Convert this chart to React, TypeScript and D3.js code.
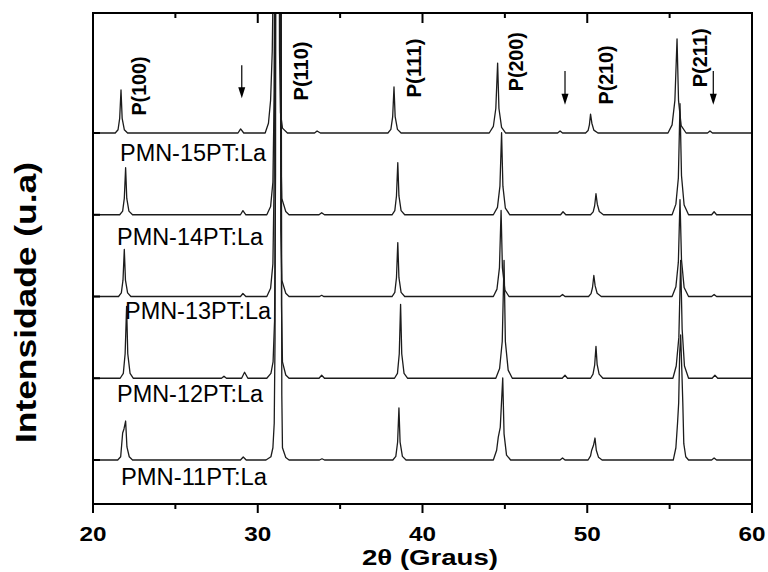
import React from "react";
import * as d3 from "d3";

// ---------- DATA ----------
// 2θ (degrees) vs relative intensity (a.u.)
const sampleNames = ["PMN-11PT:La", "PMN-12PT:La", "PMN-13PT:La", "PMN-14PT:La", "PMN-15PT:La"];
const sampleOffsets = [1000, 2000, 3000, 4000, 5000];

const pmn11: [number, number][] = [
  [20, 0], [21.5, 0], [21.68, 40], [21.8, 330], [21.88, 380], [21.98, 477], [22.06, 160], [22.2, 40], [22.4, 0],
  [28.95, 0], [29.12, 37], [29.3, 0],
  [30.5, 0], [30.8, 40], [30.92, 150], [31.0, 450], [31.05, 1500], [31.08, 6000], [31.25, 60000], [31.42, 6000], [31.46, 800], [31.5, 150], [31.7, 30], [31.9, 0],
  [33.75, 0], [33.9, 15], [34.05, 0],
  [38.2, 0], [38.38, 45], [38.49, 220], [38.57, 636], [38.64, 220], [38.78, 45], [39.0, 0],
  [44.3, 0], [44.5, 120], [44.6, 280], [44.72, 400], [44.87, 1003], [44.95, 320], [45.1, 60], [45.35, 0],
  [48.35, 0], [48.5, 25], [48.65, 0],
  [50.05, 0], [50.2, 50], [50.27, 120], [50.38, 180], [50.47, 269], [50.55, 120], [50.68, 35], [50.9, 0],
  [55.22, 0], [55.38, 150], [55.48, 450], [55.55, 700], [55.61, 1300], [55.67, 1530], [55.74, 1100], [55.8, 700], [55.86, 200], [55.98, 40], [56.15, 0],
  [57.55, 0], [57.7, 25], [57.85, 0],
  [60, 0],
];

const pmn12: [number, number][] = [
  [20, 0], [21.65, 0], [21.84, 60], [21.95, 300], [22.04, 880], [22.11, 300], [22.25, 60], [22.45, 0],
  [27.8, 0], [27.95, 25], [28.1, 0],
  [29.02, 0], [29.2, 73], [29.4, 0],
  [30.55, 0], [30.8, 60], [30.93, 200], [31.02, 700], [31.08, 2500], [31.1, 8000], [31.25, 60000], [31.4, 8000], [31.44, 900], [31.5, 200], [31.7, 40], [31.9, 0],
  [33.72, 0], [33.88, 37], [34.05, 0],
  [38.3, 0], [38.48, 60], [38.59, 300], [38.67, 905], [38.74, 300], [38.88, 60], [39.1, 0],
  [44.45, 0], [44.68, 120], [44.84, 450], [44.95, 1443], [45.03, 450], [45.2, 100], [45.45, 0],
  [48.48, 0], [48.65, 37], [48.8, 0],
  [50.2, 0], [50.35, 50], [50.45, 160], [50.53, 391], [50.6, 170], [50.72, 50], [50.95, 0],
  [55.2, 0], [55.4, 150], [55.56, 500], [55.67, 1443], [55.76, 600], [55.9, 150], [56.15, 0],
  [57.58, 0], [57.75, 37], [57.92, 0],
  [60, 0],
];

const pmn13: [number, number][] = [
  [20, 0], [21.55, 0], [21.72, 45], [21.82, 200], [21.9, 575], [21.97, 200], [22.1, 45], [22.3, 0],
  [28.95, 0], [29.1, 37], [29.28, 0],
  [30.55, 0], [30.78, 100], [30.92, 400], [31.0, 1500], [31.08, 8000], [31.22, 60000], [31.34, 8000], [31.4, 800], [31.46, 200], [31.7, 40], [31.9, 0],
  [33.75, 0], [33.88, 15], [34.0, 0],
  [38.15, 0], [38.32, 50], [38.42, 230], [38.5, 660], [38.57, 230], [38.7, 50], [38.92, 0],
  [44.3, 0], [44.52, 90], [44.67, 350], [44.77, 1052], [44.85, 350], [45.0, 80], [45.25, 0],
  [48.35, 0], [48.5, 25], [48.65, 0],
  [50.08, 0], [50.23, 35], [50.32, 110], [50.4, 257], [50.48, 130], [50.6, 40], [50.85, 0],
  [55.15, 0], [55.38, 120], [55.53, 420], [55.63, 1186], [55.72, 450], [55.88, 110], [56.15, 0],
  [57.55, 0], [57.7, 25], [57.85, 0],
  [60, 0],
];

const pmn14: [number, number][] = [
  [20, 0], [21.62, 0], [21.8, 45], [21.9, 200], [21.98, 575], [22.05, 200], [22.18, 45], [22.4, 0],
  [28.95, 0], [29.1, 50], [29.28, 0],
  [30.55, 0], [30.78, 100], [30.92, 400], [31.0, 1500], [31.08, 8000], [31.22, 60000], [31.34, 8000], [31.4, 800], [31.46, 200], [31.7, 40], [31.9, 0],
  [33.72, 0], [33.88, 25], [34.05, 0],
  [38.15, 0], [38.32, 50], [38.42, 230], [38.5, 636], [38.57, 230], [38.7, 50], [38.92, 0],
  [44.3, 0], [44.55, 90], [44.7, 350], [44.8, 1003], [44.88, 350], [45.03, 80], [45.3, 0],
  [48.38, 0], [48.53, 37], [48.7, 0],
  [50.2, 0], [50.36, 35], [50.45, 110], [50.53, 257], [50.61, 130], [50.73, 40], [50.98, 0],
  [55.15, 0], [55.38, 130], [55.53, 450], [55.63, 1358], [55.72, 480], [55.88, 120], [56.15, 0],
  [57.55, 0], [57.7, 37], [57.85, 0],
  [60, 0],
];

const pmn15: [number, number][] = [
  [20, 0], [21.35, 0], [21.52, 40], [21.62, 180], [21.7, 526], [21.77, 180], [21.9, 40], [22.1, 0],
  [28.8, 0], [28.96, 50], [29.15, 0],
  [30.45, 0], [30.65, 120], [30.78, 400], [30.88, 1000], [30.98, 2500], [31.05, 8000], [31.14, 30000], [31.26, 8000], [31.32, 1000], [31.38, 250], [31.5, 60], [31.8, 0],
  [33.45, 0], [33.6, 25], [33.8, 0],
  [37.9, 0], [38.08, 45], [38.19, 200], [38.27, 563], [38.34, 200], [38.48, 45], [38.7, 0],
  [44.05, 0], [44.3, 80], [44.45, 300], [44.56, 856], [44.64, 300], [44.8, 70], [45.05, 0],
  [48.2, 0], [48.35, 25], [48.5, 0],
  [49.9, 0], [50.05, 30], [50.13, 100], [50.2, 232], [50.28, 120], [50.4, 35], [50.65, 0],
  [54.9, 0], [55.15, 100], [55.32, 400], [55.45, 1150], [55.54, 400], [55.7, 90], [56.0, 0],
  [57.3, 0], [57.45, 25], [57.6, 0],
  [60, 0],
];

const seriesList = [pmn11, pmn12, pmn13, pmn14, pmn15];

const xTicks = [20, 25, 30, 35, 40, 45, 50, 55, 60];
const xTickLabels = ["20", "30", "40", "50", "60"];
const yTicks = [1000, 2000, 3000, 4000, 5000];

const peakLabels = ["P(100)", "P(110)", "P(111)", "P(200)", "P(210)", "P(211)"];
const peakLabelX = [23.2, 33.07, 39.89, 46.12, 51.58, 57.29];
const peakLabelY = [5575, 5759, 5795, 5872, 5710, 5920];

const arrowX = [29.03, 48.65, 57.65];
const arrowTop = [5830, 5760, 5760];
const arrowBottom = [5425, 5345, 5345];

// ---------- LAYOUT ----------
const W = 768, H = 572;
const L = 93, R = 752, T = 13, B = 504;
const FONT = "'Liberation Sans', Arial, Helvetica, sans-serif";

export default function App() {
  const x = d3.scaleLinear().domain([20, 60]).range([L, R]);
  const y = d3.scaleLinear().domain([462, 6468]).range([B, T]);

  const labelStartX = [121, 117, 125, 117, 120];
  const labelBaseY = [485, 402, 319, 245, 161];

  return (
    <svg width={W} height={H} style={{ position: "absolute", left: 0, top: 0, background: "#fff" }}>
      <defs>
        <clipPath id="plotClip">
          <rect x={L} y={T} width={R - L} height={B - T} />
        </clipPath>
      </defs>
      <rect x={0} y={0} width={W} height={H} fill="#fff" />

      <g clipPath="url(#plotClip)">
        {seriesList.map((s, i) => {
          const line = d3
            .line<[number, number]>()
            .x((d) => x(d[0]))
            .y((d) => y(d[1] + sampleOffsets[i]));
          return (
            <path key={i} d={line(s) || ""} fill="none" stroke="#1c1c1c" strokeWidth={1.3} strokeLinejoin="round" />
          );
        })}
      </g>

      {/* sample labels */}
      {sampleNames.map((n, i) => (
        <text key={n} x={labelStartX[i]} y={labelBaseY[i]} fontFamily={FONT} fontSize={23}
          textLength={146} lengthAdjust="spacingAndGlyphs" fill="#000">{n}</text>
      ))}

      {/* peak labels */}
      {peakLabels.map((p, i) => (
        <text key={p} transform={`translate(${x(peakLabelX[i])},${y(peakLabelY[i])}) rotate(-90)`}
          textAnchor="middle" fontFamily={FONT} fontWeight="bold" fontSize={21}
          textLength={59} lengthAdjust="spacingAndGlyphs" fill="#000">{p}</text>
      ))}

      {/* arrows */}
      {arrowX.map((a, i) => {
        const ax = x(a), y0 = y(arrowTop[i]), y1 = y(arrowBottom[i]);
        return (
          <g key={i}>
            <line x1={ax} x2={ax} y1={y0} y2={y1 - 8} stroke="#000" strokeWidth={1.2} />
            <path d={`M${ax - 3.5},${y1 - 11} L${ax + 3.5},${y1 - 11} L${ax},${y1} Z`} fill="#000" />
          </g>
        );
      })}

      {/* frame */}
      <rect x={L} y={T} width={R - L} height={B - T} fill="none" stroke="#000" strokeWidth={2} />

      {/* bottom ticks (outward) and top ticks (inward) */}
      {xTicks.map((t) => {
        const major = t % 10 === 0;
        return (
          <g key={t}>
            <line x1={x(t)} x2={x(t)} y1={B} y2={B + (major ? 9 : 5)} stroke="#000" strokeWidth={2} />
            <line x1={x(t)} x2={x(t)} y1={T} y2={T + (major ? 10 : 5)} stroke="#000" strokeWidth={2} />
          </g>
        );
      })}
      {/* left ticks (inward) */}
      {yTicks.map((t) => (
        <line key={t} x1={L} x2={L + 7} y1={y(t)} y2={y(t)} stroke="#000" strokeWidth={2} />
      ))}

      {/* x tick labels */}
      {xTickLabels.map((l) => (
        <text key={l} x={x(+l)} y={540.5} textAnchor="middle" fontFamily={FONT} fontWeight="bold" fontSize={21}
          textLength={27} lengthAdjust="spacingAndGlyphs" fill="#000">{l}</text>
      ))}

      {/* axis titles */}
      <text x={430} y={565} textAnchor="middle" fontFamily={FONT} fontWeight="bold" fontSize={22}
        textLength={136} lengthAdjust="spacingAndGlyphs" fill="#000">2θ (Graus)</text>
      <text transform={`translate(36,302.5) rotate(-90)`} textAnchor="middle" fontFamily={FONT} fontWeight="bold"
        fontSize={29} textLength={281} lengthAdjust="spacingAndGlyphs" fill="#000">Intensidade (u.a)</text>
    </svg>
  );
}
